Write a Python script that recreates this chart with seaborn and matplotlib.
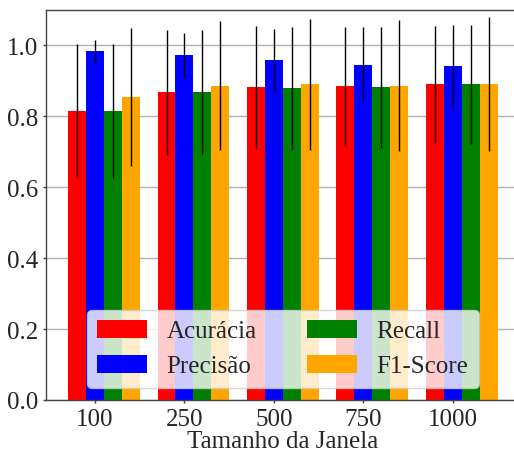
import numpy as np
import pandas as pd
import matplotlib
matplotlib.use("Agg")
import matplotlib.pyplot as plt
import seaborn as sns

windows = ["100", "250", "500", "750", "1000"]
metrics = ["Acurácia", "Precisão", "Recall", "F1-Score"]
acuracia = [0.814, 0.868, 0.882, 0.885, 0.890]
precisao = [0.983, 0.972, 0.958, 0.946, 0.941]
recall = [0.814, 0.868, 0.879, 0.882, 0.890]
f1 = [0.854, 0.887, 0.890, 0.887, 0.890]
acuracia_err = [0.189, 0.176, 0.172, 0.168, 0.166]
precisao_err = [0.033, 0.062, 0.089, 0.106, 0.117]
recall_err = [0.189, 0.175, 0.174, 0.170, 0.169]
f1_err = [0.194, 0.181, 0.184, 0.186, 0.189]
colors = ["red", "blue", "green", "orange"]

values = [acuracia, precisao, recall, f1]
errors = [acuracia_err, precisao_err, recall_err, f1_err]

rows = []
for m, vals in zip(metrics, values):
    for w, v in zip(windows, vals):
        rows.append({"Janela": w, "Métrica": m, "Valor": v})
df = pd.DataFrame(rows)

sns.set_style("ticks")
plt.rcParams["font.family"] = ["Liberation Serif", "DejaVu Serif"]
plt.rcParams["font.size"] = 18

fig = plt.figure(figsize=(5.14, 4.52), dpi=100)
ax = fig.add_axes([46 / 514, 51 / 452, (519 - 46) / 514, 390 / 452])

sns.barplot(data=df, x="Janela", y="Valor", hue="Métrica", order=windows,
            hue_order=metrics, palette=colors, errorbar=None, width=0.8,
            saturation=1, linewidth=0, edgecolor="none", ax=ax, zorder=2)

for cont, err in zip(ax.containers, errors):
    xs = [b.get_x() + b.get_width() / 2 for b in cont]
    ys = [b.get_height() for b in cont]
    ax.errorbar(xs, ys, yerr=err, fmt="none", ecolor="black", elinewidth=1,
                capsize=0, zorder=3)

ax.set_axisbelow(True)
ax.yaxis.grid(True, color="#b0b0b0", lw=1)
ax.set_ylim(0, 1.1)
ax.set_yticks([0.0, 0.2, 0.4, 0.6, 0.8, 1.0])
ax.set_yticklabels(["0.0", "0.2", "0.4", "0.6", "0.8", "1.0"])
ax.set_xticks(np.arange(len(windows)) - 0.1)
ax.set_xticklabels(windows)
ax.set_xlim(-0.647, 4.64)
ax.set_xlabel("Tamanho da Janela", fontsize=18, labelpad=0)
ax.set_ylabel("")
ax.tick_params(axis="both", labelsize=18, length=2.5, width=1, color="#444444", pad=3)
for s in ax.spines.values():
    s.set_visible(True)
    s.set_color("#444444")
    s.set_linewidth(1)

ax.legend(loc="lower center", ncol=2, fontsize=18, framealpha=0.8,
          edgecolor="#cccccc", fancybox=True, columnspacing=2.0)

fig.savefig("out.png", dpi=100)
